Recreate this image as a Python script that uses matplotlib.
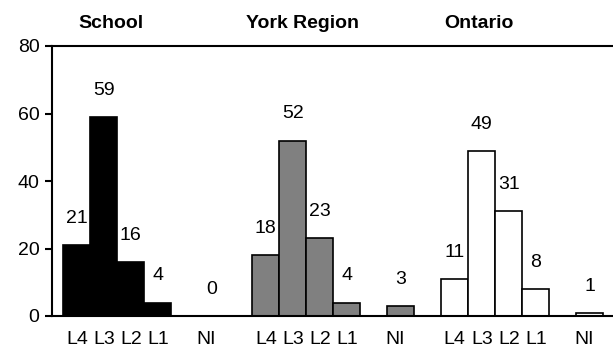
import matplotlib.pyplot as plt
import matplotlib.transforms as mtransforms

plt.rcParams['font.family'] = ['Liberation Sans', 'DejaVu Sans']

levels = ['L4', 'L3', 'L2', 'L1', 'NI']
groups = ['School', 'York Region', 'Ontario']
school = [21, 59, 16, 4, 0]
york = [18, 52, 23, 4, 3]
ontario = [11, 49, 31, 8, 1]
colors = ['black', '#808080', 'white']

# slot layout: four level bars, a gap, then the NI bar; 7 slots per group
slots = [0, 1, 2, 3, 5]
title_x = [1.75, 8.85, 15.4]

fig = plt.figure(figsize=(6.13, 3.48), dpi=100)
ax = fig.add_axes([52 / 613, 32 / 348, 561 / 613, 270 / 348])

ticks, ticklabels = [], []
for g, (name, vals, col) in enumerate(zip(groups, [school, york, ontario], colors)):
    start = g * 7
    xs = [start + s for s in slots]
    ax.bar(xs, vals, width=1, align='edge', color=col, edgecolor='black',
           linewidth=1.2, zorder=2)
    for x, v in zip(xs, vals):
        ax.annotate(str(v), (x + 0.5, v), xytext=(0, 13), textcoords='offset points',
                    ha='center', va='bottom', fontsize=14)
    for x, lab in zip(xs, levels):
        shift = -0.2 if lab == 'NI' else 0
        ticks.append(x + 0.5 + shift)
        ticklabels.append(lab)
    trans = mtransforms.blended_transform_factory(ax.transData, ax.transAxes)
    ax.text(title_x[g], 1.085, name, transform=trans, ha='center', va='center',
            fontsize=14, fontweight='bold')

ax.set_xlim(-0.42, 20.36)
ax.set_ylim(0, 80)
ax.set_yticks([0, 20, 40, 60, 80])
ax.set_xticks(ticks)
ax.set_xticklabels(ticklabels)
ax.tick_params(axis='x', length=0, pad=11, labelsize=14)
ax.tick_params(axis='y', length=5, width=1.5, pad=4, labelsize=14)
ax.spines['right'].set_visible(False)
for side in ['left', 'top', 'bottom']:
    ax.spines[side].set_linewidth(1.5)

fig.savefig('out.png', dpi=100)
